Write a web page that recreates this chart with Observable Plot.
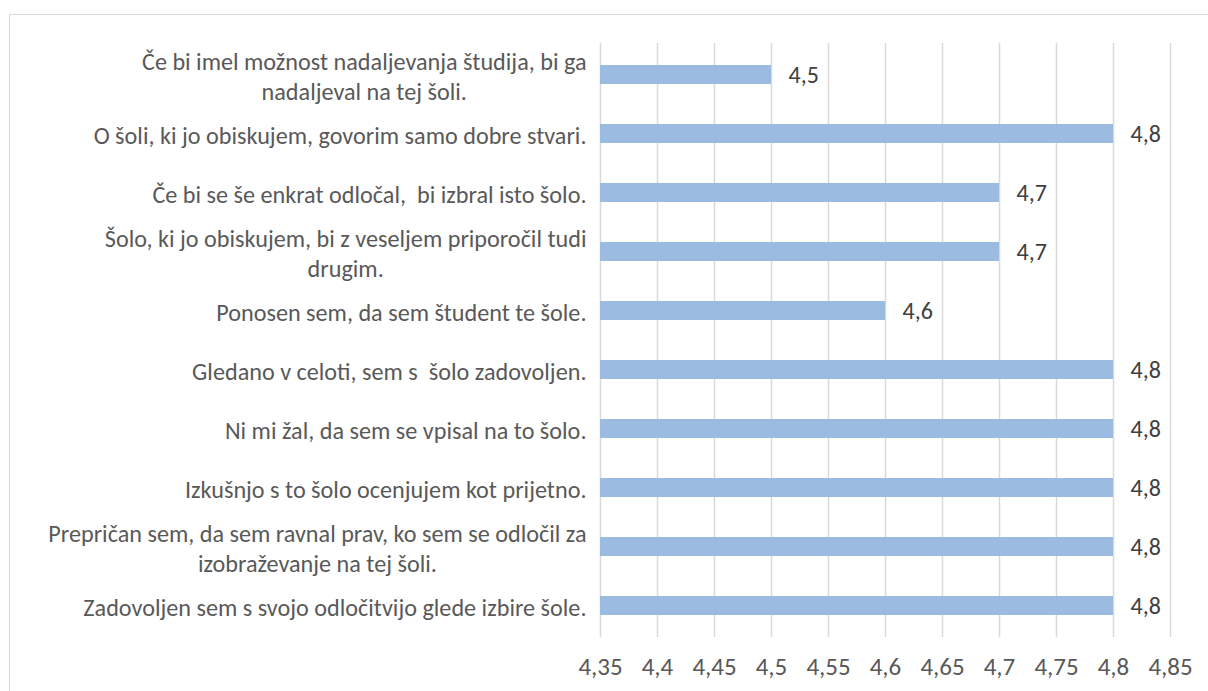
<!DOCTYPE html>
<html>
<head>
<meta charset="utf-8">
<script src="https://cdn.jsdelivr.net/npm/d3@7"></script>
<script src="https://cdn.jsdelivr.net/npm/@observablehq/plot@0.6"></script>
<style>
  html, body { margin: 0; padding: 0; background: #fff; overflow: hidden; }
  #frame { position: absolute; left: 9px; top: 14px; width: 1400px; height: 900px; border: 1px solid #d9d9d9; box-sizing: border-box; }
  #chart { position: absolute; left: 0; top: 0; }
  #chart svg text { white-space: pre; font-size: 25px; }
  #chart svg g[aria-label="y-axis tick label"] text { font-size: 24.2px; }
  #chart svg g[aria-label="text"] text { font-size: 24px; }
</style>
</head>
<body>
<div id="frame"></div>
<div id="chart"></div>
<script>
const categories = [
  "Če bi imel možnost nadaljevanja študija, bi ga\nnadaljeval na tej šoli.",
  "O šoli, ki jo obiskujem, govorim samo dobre stvari.",
  "Če bi se še enkrat odločal,  bi izbral isto šolo.",
  "Šolo, ki jo obiskujem, bi z veseljem priporočil tudi\ndrugim.",
  "Ponosen sem, da sem študent te šole.",
  "Gledano v celoti, sem s  šolo zadovoljen.",
  "Ni mi žal, da sem se vpisal na to šolo.",
  "Izkušnjo s to šolo ocenjujem kot prijetno.",
  "Prepričan sem, da sem ravnal prav, ko sem se odločil za\nizobraževanje na tej šoli.",
  "Zadovoljen sem s svojo odločitvijo glede izbire šole."
];
const values = [4.5, 4.8, 4.7, 4.7, 4.6, 4.8, 4.8, 4.8, 4.8, 4.8];
const axisMin = 4.35;
const axisMax = 4.85;
const tickValues = [4.35, 4.4, 4.45, 4.5, 4.55, 4.6, 4.65, 4.7, 4.75, 4.8, 4.85];

const data = categories.map((c, i) => ({category: c, value: values[i]}));
const fmt = d => String(d).replace(".", ",");

const chart = Plot.plot({
  width: 1208,
  height: 691,
  marginLeft: 600,
  marginRight: 38,
  marginTop: 43,
  marginBottom: 54,
  style: {fontFamily: "Carlito, Lato, sans-serif", fontSize: "25px", color: "#595959", background: "transparent"},
  x: {domain: [axisMin, axisMax], label: null},
  y: {domain: categories, paddingInner: 0.68, paddingOuter: 0.34, label: null},
  marks: [
    Plot.gridX(tickValues, {stroke: "#d9d9d9", strokeOpacity: 1, strokeWidth: 1.5}),
    Plot.barX(data, {y: "category", x1: () => axisMin, x2: "value", fill: "#9bbbe0"}),
    Plot.text(data, {y: "category", x: "value", text: d => fmt(d.value), textAnchor: "start", dx: 17, fill: "#404040"}),
    Plot.axisX({ticks: tickValues, tickFormat: fmt, tickSize: 0, tickPadding: 20, fill: "#595959", label: null}),
    Plot.axisY({tickSize: 0, tickPadding: 14, fill: "#595959", textOverflow: null, lineWidth: Infinity, lineHeight: 1.25, label: null})
  ]
});
document.getElementById("chart").appendChild(chart);

// center-align the lines of multi-line category labels within their right-aligned block
chart.querySelectorAll('g[aria-label="y-axis tick label"] text').forEach(t => {
  const spans = t.querySelectorAll("tspan");
  if (spans.length > 1) {
    let maxW = 0;
    spans.forEach(s => { maxW = Math.max(maxW, s.getComputedTextLength()); });
    t.setAttribute("text-anchor", "middle");
    spans.forEach(s => s.setAttribute("x", -maxW / 2));
  }
});
</script>
</body>
</html>
